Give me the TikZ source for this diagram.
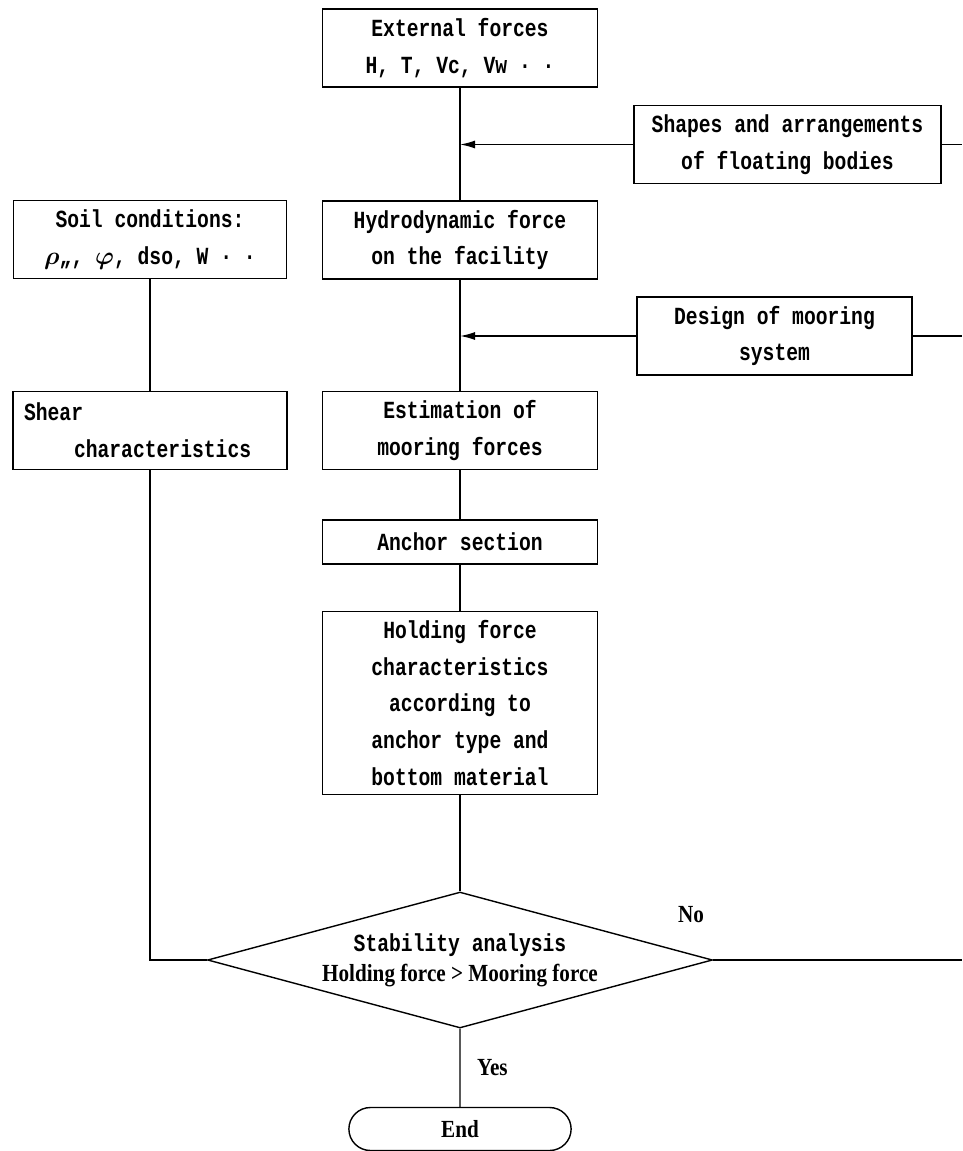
\documentclass[tikz,border=0pt]{standalone}
\usepackage{fontspec}
\setmonofont[FakeStretch=0.8]{Liberation Mono}
\newfontfamily\etroite[FakeStretch=0.86]{Liberation Serif}
\usetikzlibrary{arrows.meta,shapes.geometric,shapes.misc}
\tikzset{
  bloc/.style={draw, align=center, inner sep=0pt, minimum width=5.5cm, minimum height=1.56cm,
    font=\fontsize{14}{21}\selectfont\ttfamily\bfseries},
  etiq/.style={font=\fontsize{14}{21}\selectfont\etroite\bfseries},
  fleche/.style={-{Latex[length=3mm,width=1.6mm]}},
}
\begin{document}
\begin{tikzpicture}[x=0.02cm,y=-0.02cm,line width=0.8pt]
                \useasboundingbox (0,0) rectangle (962,1151);
                \coordinate (bord) at (962,0);% bord droit
                \node[bloc] (ext) at (460,48) {External forces\\H, T, Vc, Vw · ·};
                \node[bloc,minimum width=6.14cm] (forme) at (787.5,144.5) {Shapes and arrangements\\of floating bodies};
                \node[bloc,minimum width=5.46cm] (sol) at (150,239.5) {Soil conditions:\\{\boldmath$\rho$}„, {\boldmath$\varphi$}, dso, W · ·};
                \node[bloc] (hydro) at (460,240) {Hydrodynamic force\\on the facility};
                \node[bloc] (systeme) at (774.5,336) {Design of mooring\\system};
                \node[bloc,minimum width=0pt,text width=5.04cm,inner xsep=0.22cm,align=left] (cisail) at (150,430.5) {Shear\\\hspace*{1cm}characteristics};
                \node[bloc] (estim) at (460,430.5) {Estimation of\\mooring forces};
                \node[bloc,minimum height=0.88cm] (section) at (460,542) {Anchor section};
                \node[bloc,minimum height=3.66cm] (tenue) at (460,703) {Holding force\\characteristics\\according to\\anchor type and\\bottom material};
                \node[draw,diamond,aspect=3.7,inner sep=0pt,minimum width=10.1cm,minimum height=2.72cm,align=center,
                    font=\fontsize{14}{17}\selectfont\ttfamily\bfseries] (stab) at (460,960)
                    {Stability analysis\\{\etroite\bfseries Holding force > Mooring force}};
                \node[draw,rounded rectangle,minimum width=4.68cm,minimum height=0.86cm,etiq] (fin) at (460,1129) {End};
                \node[etiq] (non) at (691,915) {No};
                \draw (ext) -- (hydro);
                \draw (hydro) -- (estim);
                \draw (estim) -- (section);
                \draw (section) -- (tenue);
                \draw (tenue) -- (stab);
                \draw (stab) -- (fin) node[midway,right=6pt,etiq] (oui) {Yes};
                \draw[fleche] (forme.west) -- (forme.west -| ext.south);
                \draw[fleche] (systeme.west) -- (systeme.west -| ext.south);
                \draw (forme.east) -- (forme.east -| bord);
                \draw (systeme.east) -- (systeme.east -| bord);
                \draw (sol) -- (cisail);
                \draw (cisail.south) |- (stab.west);
                \draw (stab.east) -- (stab.east -| bord);%retour
\end{tikzpicture}
\end{document}
